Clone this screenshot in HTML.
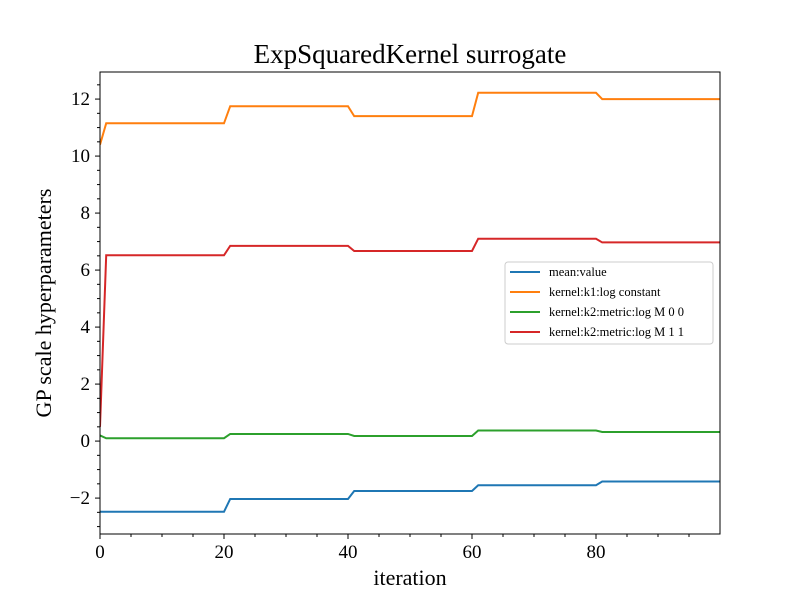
<!DOCTYPE html>
<html><head><meta charset="utf-8"><style>
body{margin:0;background:#fff}
svg text{font-family:"Liberation Serif","DejaVu Serif",serif;fill:#000}
</style></head><body>
<svg id="chart" width="800" height="600">
<rect width="800" height="600" fill="#fff"/>
<g id="plot"></g>
</svg>
<script>
const iterations=[0,1,20,21,40,41,60,61,80,81,100];
const seriesNames=["mean:value","kernel:k1:log constant","kernel:k2:metric:log M 0 0","kernel:k2:metric:log M 1 1"];
const meanValue=[-2.48,-2.48,-2.48,-2.03,-2.03,-1.75,-1.75,-1.55,-1.55,-1.42,-1.42];
const logConstant=[10.4,11.15,11.15,11.75,11.75,11.4,11.4,12.22,12.22,12.0,12.0];
const logM00=[0.2,0.1,0.1,0.25,0.25,0.18,0.18,0.37,0.37,0.32,0.32];
const logM11=[0.5,6.52,6.52,6.85,6.85,6.67,6.67,7.1,7.1,6.97,6.97];
const colors=["#1f77b4","#ff7f0e","#2ca02c","#d62728"];
const xTicks=[0,20,40,60,80];
const yTicks=[-2,0,2,4,6,8,10,12];
const L=100,R=720,T=72,B=534,xMin=0,xMax=100,yMin=-3.26,yMax=12.95;
const sx=v=>L+(v-xMin)/(xMax-xMin)*(R-L);
const sy=v=>B-(v-yMin)/(yMax-yMin)*(B-T);
const g=document.getElementById('plot');
const NS="http://www.w3.org/2000/svg";
function mk(t,a,p){const e=document.createElementNS(NS,t);for(const k in a)e.setAttribute(k,a[k]);(p||g).appendChild(e);return e;}
const all=[meanValue,logConstant,logM00,logM11];
all.forEach((s,i)=>{
 const p=mk('polyline',{points:s.map((v,j)=>sx(iterations[j])+','+sy(v)).join(' '),fill:'none',stroke:colors[i],'stroke-width':2,'clip-path':'url(#c)'});
 
 
});
const cp=mk('clipPath',{id:'c'});mk('rect',{x:L,y:T,width:R-L,height:B-T},cp);
const fr=mk('rect',{x:L,y:T,width:R-L,height:B-T,fill:'none',stroke:'#000','stroke-width':1});


for(let v=0;v<xMax;v+=5){const x=sx(v);const maj=v%20==0;mk('line',{x1:x,x2:x,y1:B,y2:B+(maj?5:3),stroke:'#000'});}
xTicks.forEach(v=>{const t=mk('text',{x:sx(v),y:B+24,'text-anchor':'middle','font-size':19});t.textContent=v;
 
 });
for(let v=-3;v<=12.9;v+=0.5){const y=sy(v);const maj=Math.abs(v%2)<1e-9;mk('line',{x1:L,x2:L-(maj?5:3),y1:y,y2:y,stroke:'#000'});}
yTicks.forEach(v=>{const t=mk('text',{x:L-10,y:sy(v)+6,'text-anchor':'end','font-size':19});t.textContent=(v<0?'\u2212'+(-v):v);
 
 });
let t=mk('text',{x:410,y:63,'text-anchor':'middle','font-size':27});t.textContent='ExpSquaredKernel surrogate';


t=mk('text',{x:410,y:585,'text-anchor':'middle','font-size':22});t.textContent='iteration';


t=mk('text',{x:0,y:0,'text-anchor':'middle','font-size':22,transform:'translate(51,303) rotate(-90)'});t.textContent='GP scale hyperparameters';


const lg=mk('g',{});


mk('rect',{x:505,y:262,width:208,height:82,rx:3,fill:'#fff','fill-opacity':0.8,stroke:'#ccc'},lg);
seriesNames.forEach((n,i)=>{const y=272+i*20;
 const e=mk('g',{},lg);
 
 
 mk('line',{x1:510,x2:540,y1:y,y2:y,stroke:colors[i],'stroke-width':2},e);
 const tx=mk('text',{x:549,y:y+4,'font-size':12.5},e);tx.textContent=n;});
</script>
</body></html>
